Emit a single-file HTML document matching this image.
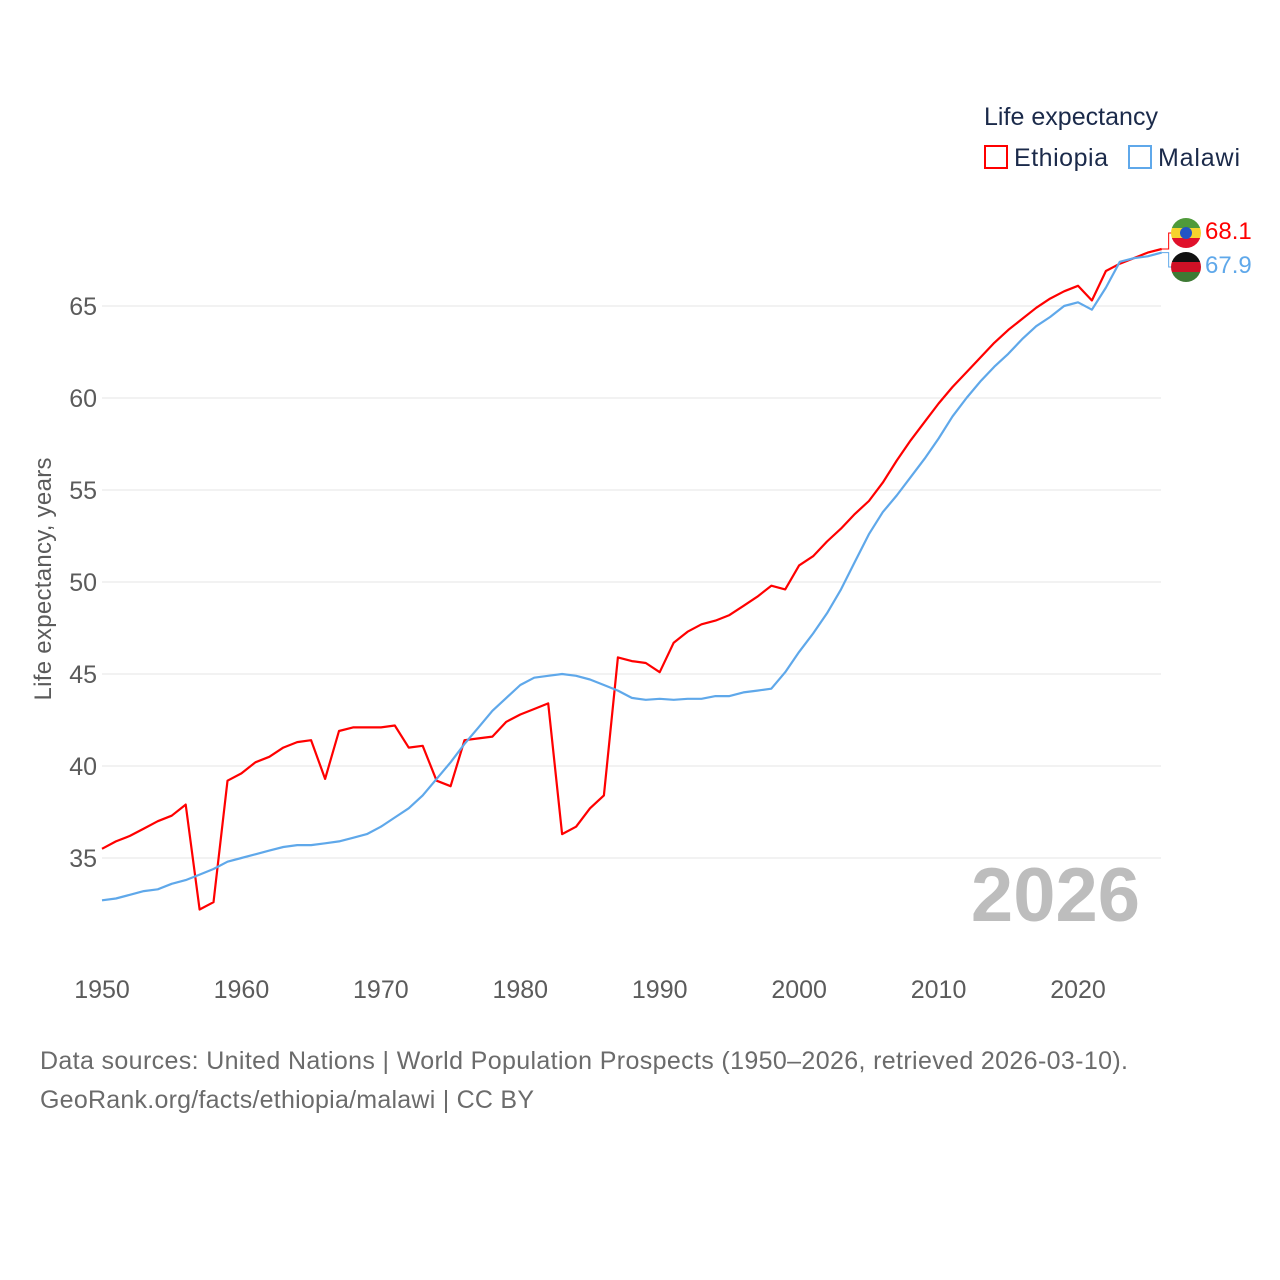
<!DOCTYPE html>
<html><head><meta charset="utf-8"><style>
body{margin:0;background:#fff;width:1280px;height:1280px;overflow:hidden;font-family:"Liberation Sans",sans-serif}
svg{display:block}
</style></head><body>
<svg id="chart" width="1280" height="1280" viewBox="0 0 1280 1280" xmlns="http://www.w3.org/2000/svg" font-family="Liberation Sans, sans-serif">
<g>
<text x="984" y="125" font-size="25" fill="#1b2a4a" textLength="174">Life expectancy</text>
<g><rect x="985" y="146" width="22" height="22" fill="none" stroke="#f00" stroke-width="2"/><text x="1014" y="166" font-size="25" fill="#1b2a4a" textLength="94">Ethiopia</text></g>
<g><rect x="1129" y="146" width="22" height="22" fill="none" stroke="#5fa8ea" stroke-width="2"/><text x="1158" y="166" font-size="25" fill="#1b2a4a" textLength="82">Malawi</text></g>
</g>
<g id="grid"></g>
<g id="yticks"></g>
<g id="xticks"></g>
<text transform="translate(51,579) rotate(-90)" text-anchor="middle" font-size="24" fill="#5b5b5b" textLength="243">Life expectancy, years</text>
<text x="1140" y="921" text-anchor="end" font-size="76" font-weight="bold" fill="#bdbdbd">2026</text>
<g id="series"></g>
<g>
<g>
<clipPath id="c1"><circle cx="1186" cy="233" r="15"/></clipPath>
<g clip-path="url(#c1)"><rect x="1170" y="217" width="32" height="11" fill="#4f9a3a"/><rect x="1170" y="228" width="32" height="10" fill="#f6d32d"/><rect x="1170" y="238" width="32" height="11" fill="#e0112b"/><circle cx="1186" cy="233" r="6" fill="#2255c4"/></g></g>
<g>
<clipPath id="c2"><circle cx="1186" cy="267" r="15"/></clipPath>
<g clip-path="url(#c2)"><rect x="1170" y="251" width="32" height="11" fill="#111"/><rect x="1170" y="262" width="32" height="10" fill="#ce1126"/><rect x="1170" y="272" width="32" height="11" fill="#3e7a34"/></g></g>
<text x="1205" y="239" font-size="24" fill="#f00">68.1</text>
<text x="1205" y="273" font-size="24" fill="#5fa8ea">67.9</text>
</g>
<text x="40" y="1069" font-size="25" fill="#6b6b6b" textLength="1088">Data sources: United Nations | World Population Prospects (1950–2026, retrieved 2026-03-10).</text>
<text x="40" y="1108" font-size="25" fill="#6b6b6b" textLength="494">GeoRank.org/facts/ethiopia/malawi | CC BY</text>
</svg>
<script>
const years = [];
for (let y = 1950; y <= 2026; y++) years.push(y);
const ethiopia = [35.5,35.9,36.2,36.6,37.0,37.3,37.9,32.2,32.6,39.2,39.6,40.2,40.5,41.0,41.3,41.4,39.3,41.9,42.1,42.1,42.1,42.2,41.0,41.1,39.2,38.9,41.4,41.5,41.6,42.4,42.8,43.1,43.4,36.3,36.7,37.7,38.4,45.9,45.7,45.6,45.1,46.7,47.3,47.7,47.9,48.2,48.7,49.2,49.8,49.6,50.9,51.4,52.2,52.9,53.7,54.4,55.4,56.6,57.7,58.7,59.7,60.6,61.4,62.2,63.0,63.7,64.3,64.9,65.4,65.8,66.1,65.3,66.9,67.3,67.6,67.9,68.1];
const malawi = [32.7,32.8,33.0,33.2,33.3,33.6,33.8,34.1,34.4,34.8,35.0,35.2,35.4,35.6,35.7,35.7,35.8,35.9,36.1,36.3,36.7,37.2,37.7,38.4,39.3,40.2,41.2,42.1,43.0,43.7,44.4,44.8,44.9,45.0,44.9,44.7,44.4,44.1,43.7,43.6,43.65,43.6,43.65,43.65,43.8,43.8,44.0,44.1,44.2,45.1,46.2,47.2,48.3,49.6,51.1,52.6,53.8,54.7,55.7,56.7,57.8,59.0,60.0,60.9,61.7,62.4,63.2,63.9,64.4,65.0,65.2,64.8,66.0,67.4,67.6,67.7,67.9];
const yTicks = [35,40,45,50,55,60,65];
const xTicks = [1950,1960,1970,1980,1990,2000,2010,2020];
const NS = "http://www.w3.org/2000/svg";
function xs(y){return 102 + (y-1950)*(1078-102)/70;}
function ys(v){return 306 + (65-v)*18.4;}
const grid = document.getElementById('grid'), yt = document.getElementById('yticks'), xt = document.getElementById('xticks'), ser = document.getElementById('series');
yTicks.forEach(v=>{
  const l = document.createElementNS(NS,'line');
  l.setAttribute('x1',102);l.setAttribute('x2',1161);l.setAttribute('y1',ys(v));l.setAttribute('y2',ys(v));
  l.setAttribute('stroke','#e6e6e6');l.setAttribute('stroke-width','1');
  
  
  grid.appendChild(l);
  const t = document.createElementNS(NS,'text');
  t.setAttribute('x',97);t.setAttribute('y',ys(v)+9);t.setAttribute('text-anchor','end');
  t.setAttribute('font-size','25');t.setAttribute('fill','#5b5b5b');t.textContent=v;
  
  
  yt.appendChild(t);
});
xTicks.forEach(y=>{
  const t = document.createElementNS(NS,'text');
  t.setAttribute('x',xs(y));t.setAttribute('y',998);t.setAttribute('text-anchor','middle');
  t.setAttribute('font-size','25');t.setAttribute('fill','#5b5b5b');t.textContent=y;
  
  
  xt.appendChild(t);
});
function line(data,color,name,labelY){
  const p = document.createElementNS(NS,'polyline');
  p.setAttribute('points',data.map((v,i)=>xs(years[i]).toFixed(1)+','+ys(v).toFixed(1)).join(' '));
  p.setAttribute('fill','none');p.setAttribute('stroke',color);p.setAttribute('stroke-width','2.2');p.setAttribute('stroke-linejoin','round');
  
  
  ser.appendChild(p);
  const last = data[data.length-1], ex = xs(years[years.length-1]);
  const c = document.createElementNS(NS,'polyline');
  c.setAttribute('points',ex+','+ys(last)+' '+(ex+7)+','+ys(last)+' '+(ex+7)+','+labelY+' '+(ex+12)+','+labelY);
  c.setAttribute('fill','none');c.setAttribute('stroke',color);c.setAttribute('stroke-width','1');
  
  
  ser.appendChild(c);
}
line(ethiopia,'#ff0000','ethiopia-line',233);
line(malawi,'#5fa8ea','malawi-line',267);
</script>
</body></html>
